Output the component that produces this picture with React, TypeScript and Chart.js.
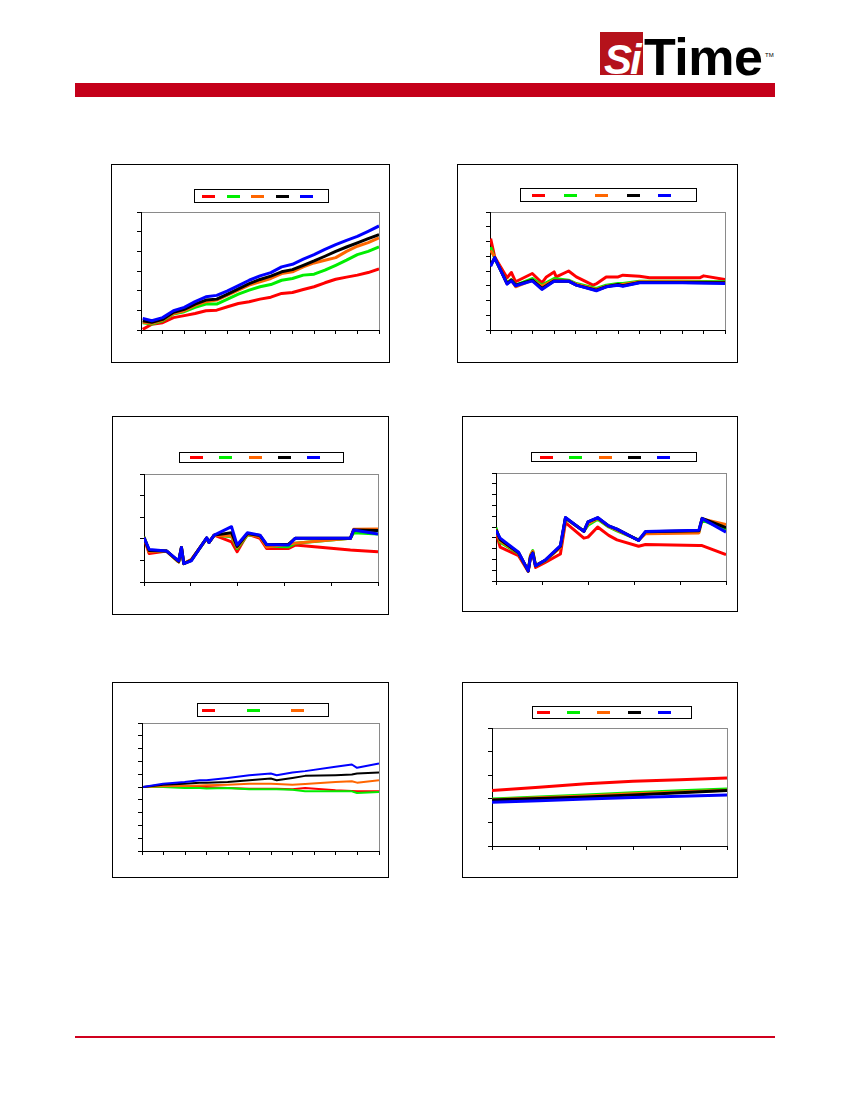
import { useEffect, useRef } from "react";
import { Chart, registerables } from "chart.js";

Chart.register(...registerables);

// ---- data ----

// panel 1 (rising)
const p1X = [0.08, 0.5, 1, 1.5, 2, 2.5, 3, 3.5, 4, 4.5, 5, 5.5, 6, 6.5, 7, 7.5, 8, 8.5, 9, 9.5, 10, 10.5, 11];
const p1Red = [0.03, 0.29, 0.37, 0.63, 0.73, 0.84, 0.98, 1.01, 1.18, 1.35, 1.44, 1.57, 1.67, 1.86, 1.91, 2.06, 2.2, 2.4, 2.58, 2.69, 2.79, 2.92, 3.11];
const p1Green = [0.37, 0.3, 0.47, 0.81, 0.93, 1.15, 1.32, 1.32, 1.57, 1.82, 2.03, 2.2, 2.31, 2.53, 2.62, 2.79, 2.84, 3.04, 3.29, 3.55, 3.83, 4.0, 4.22];
const p1Orange = [0.39, 0.34, 0.51, 0.84, 0.98, 1.25, 1.44, 1.52, 1.77, 2.03, 2.28, 2.45, 2.62, 2.87, 2.96, 3.21, 3.41, 3.55, 3.68, 4.0, 4.26, 4.44, 4.68];
const p1Black = [0.47, 0.39, 0.54, 0.9, 1.05, 1.32, 1.52, 1.57, 1.82, 2.09, 2.36, 2.57, 2.74, 2.96, 3.07, 3.29, 3.51, 3.75, 4.0, 4.22, 4.43, 4.65, 4.85];
const p1Blue = [0.59, 0.47, 0.63, 0.98, 1.15, 1.44, 1.69, 1.76, 1.99, 2.26, 2.53, 2.75, 2.92, 3.21, 3.34, 3.6, 3.83, 4.1, 4.34, 4.56, 4.76, 5.02, 5.29];

// panel 2 (settling)
const p2RedX = [0.03, 0.22, 0.8, 1.0, 1.2, 1.98, 2.43, 2.64, 3.0, 3.1, 3.68, 4.04, 4.82, 5.0, 5.44, 6.0, 6.22, 7.0, 7.47, 7.99, 8.99, 9.81, 10.0, 11];
const p2Red = [6.19, 4.95, 3.54, 3.9, 3.27, 3.83, 3.2, 3.6, 3.94, 3.6, 4.0, 3.6, 3.04, 3.15, 3.6, 3.6, 3.72, 3.65, 3.54, 3.54, 3.54, 3.54, 3.67, 3.42];
const p2X = [0.03, 0.22, 0.8, 1.0, 1.2, 1.98, 2.43, 3.0, 3.68, 4.04, 4.98, 5.44, 6.0, 6.22, 7.0, 9.0, 11];
const p2Green = [5.63, 4.84, 3.2, 3.42, 3.04, 3.49, 3.04, 3.49, 3.38, 3.15, 2.82, 3.04, 3.15, 3.15, 3.31, 3.31, 3.27];
const p2Orange = [5.4, 4.95, 3.15, 3.38, 2.93, 3.38, 2.97, 3.38, 3.33, 3.11, 2.75, 2.97, 3.09, 3.09, 3.27, 3.27, 3.22];
const p2Black = [4.39, 4.91, 3.15, 3.38, 3.04, 3.38, 2.82, 3.33, 3.31, 3.04, 2.7, 2.93, 3.09, 3.0, 3.22, 3.22, 3.2];
const p2Blue = [4.32, 4.91, 3.11, 3.33, 3.0, 3.33, 2.75, 3.31, 3.31, 3.04, 2.66, 2.93, 3.04, 2.97, 3.2, 3.2, 3.15];

// panel 3
const p3X = [0, 0.11, 0.48, 0.74, 0.8, 0.85, 1.01, 1.34, 1.39, 1.5, 1.87, 1.99, 2.21, 2.48, 2.62, 3.09, 3.23, 4.41, 4.48, 5];
const p3Red = [2.02, 1.32, 1.43, 0.93, 1.6, 0.85, 1.04, 2.02, 1.83, 2.17, 1.86, 1.4, 2.22, 2.02, 1.55, 1.55, 1.71, 1.48, 1.47, 1.4];
const p3Green = [2.1, 1.44, 1.43, 0.93, 1.6, 0.85, 1.01, 2.02, 1.83, 2.17, 2.1, 1.55, 2.17, 2.13, 1.66, 1.63, 1.79, 2.02, 2.28, 2.22];
const p3Orange = [2.08, 1.4, 1.43, 0.93, 1.6, 0.85, 1.02, 2.02, 1.83, 2.17, 2.13, 1.6, 2.2, 2.1, 1.62, 1.75, 1.8, 2.02, 2.44, 2.45];
const p3Black = [2.05, 1.46, 1.44, 0.95, 1.6, 0.85, 1.0, 2.04, 1.83, 2.17, 2.28, 1.65, 2.24, 2.15, 1.72, 1.75, 2.02, 2.02, 2.41, 2.38];
const p3Blue = [2.05, 1.51, 1.44, 0.98, 1.6, 0.85, 0.98, 2.05, 1.83, 2.17, 2.56, 1.71, 2.28, 2.17, 1.74, 1.71, 2.02, 2.02, 2.41, 2.22];

// panel 4
const p4X = [0, 0.09, 0.49, 0.7, 0.75, 0.8, 0.86, 1.07, 1.4, 1.51, 1.91, 2.0, 2.21, 2.45, 2.63, 3.1, 3.25, 4.41, 4.48, 5];
const p4Red = [4.53, 3.13, 2.34, 0.88, 2.19, 2.66, 1.25, 1.72, 2.5, 5.41, 3.97, 4.06, 5.0, 4.22, 3.81, 3.22, 3.38, 3.28, 3.28, 2.44];
const p4Green = [4.94, 3.59, 2.56, 0.94, 2.34, 2.81, 1.41, 1.88, 3.13, 5.78, 4.63, 5.16, 5.72, 5.0, 4.65, 3.81, 4.44, 4.53, 5.63, 4.75];
const p4Orange = [4.8, 3.7, 2.6, 0.95, 2.4, 2.75, 1.45, 1.9, 3.1, 5.8, 4.6, 5.3, 5.8, 5.05, 4.7, 3.78, 4.38, 4.45, 5.75, 5.22];
const p4Black = [4.75, 3.85, 2.62, 0.94, 2.25, 2.6, 1.41, 1.92, 3.2, 5.85, 4.6, 5.47, 5.85, 5.1, 4.8, 3.76, 4.55, 4.65, 5.8, 4.94];
const p4Blue = [4.69, 3.97, 2.66, 0.94, 2.19, 2.56, 1.41, 1.94, 3.28, 5.88, 4.59, 5.47, 5.88, 5.1, 4.8, 3.75, 4.59, 4.69, 5.78, 4.53];

// panel 5 (fan out from the middle)
const p5X = [0.05, 0.98, 1.98, 2.68, 2.99, 3.98, 4.98, 5.98, 6.25, 6.98, 7.57, 8.98, 9.74, 9.98, 11];
const p5Red = [5.0, 5.0, 5.05, 5.01, 5.0, 4.92, 4.87, 4.87, 4.86, 4.82, 4.92, 4.74, 4.68, 4.66, 4.66];
const p5Green = [5.0, 5.0, 4.92, 4.92, 4.88, 4.92, 4.82, 4.82, 4.82, 4.79, 4.66, 4.66, 4.66, 4.53, 4.61];
const p5Orange = [5.0, 5.05, 5.08, 5.12, 5.13, 5.18, 5.26, 5.26, 5.24, 5.18, 5.24, 5.39, 5.45, 5.34, 5.53];
const p5Black = [5.0, 5.18, 5.26, 5.34, 5.34, 5.39, 5.53, 5.66, 5.53, 5.71, 5.87, 5.92, 5.97, 6.05, 6.13];
const p5Blue = [5.0, 5.26, 5.39, 5.53, 5.53, 5.71, 5.92, 6.05, 5.92, 6.13, 6.24, 6.58, 6.76, 6.5, 6.84];

// panel 6 (gentle slopes)
const p6X = [0, 1, 2, 3, 4, 5];
const p6Red = [2.35, 2.49, 2.64, 2.74, 2.81, 2.88];
const p6Green = [1.99, 2.08, 2.16, 2.26, 2.34, 2.42];
const p6Orange = [1.96, 2.04, 2.12, 2.21, 2.29, 2.36];
const p6Black = [1.95, 2.01, 2.08, 2.16, 2.26, 2.35];
const p6Blue = [1.85, 1.92, 1.99, 2.06, 2.11, 2.16];

// ---- styling ----
const RED = "#ff0000";
const GREEN = "#00ee00";
const ORANGE = "#ff6600";
const BLACK = "#000000";
const BLUE = "#0000ff";
const TICK = 4;

type Rect = [number, number, number, number]; // left, top, right, bottom

interface Series {
  color: string;
  x: number[];
  y: number[];
  inLegend?: boolean;
}

interface PanelProps {
  frame: Rect;
  plot: Rect;
  legend: Rect;
  first: number;
  step: number;
  series: Series[];
  xMax: number;
  yMax: number;
  lineWidth: number;
}

// grey outline round the plot area, under the black axes
const plotOutline = {
  id: "plotOutline",
  beforeDraw(chart: Chart) {
    const { ctx, chartArea: a } = chart;
    ctx.save();
    ctx.strokeStyle = "#8a8a8a";
    ctx.lineWidth = 1;
    ctx.strokeRect(a.left + 0.5, a.top + 0.5, a.right - a.left, a.bottom - a.top);
    ctx.restore();
  },
};

function axis(max: number) {
  return {
    type: "linear" as const,
    min: 0,
    max,
    ticks: { display: false, stepSize: 1, maxTicksLimit: 100 },
    grid: { drawOnChartArea: false, drawTicks: true, tickLength: TICK, color: "#000" },
    border: { color: "#000", width: 1 },
  };
}

function Panel({ frame, plot, legend, first, step, series, xMax, yMax, lineWidth }: PanelProps) {
  const canvasRef = useRef<HTMLCanvasElement>(null);
  const [L, T, R, B] = frame;
  const W = R - L;
  const H = B - T;

  useEffect(() => {
    const el = canvasRef.current;
    if (!el) return;
    const chart = new Chart(el, {
      type: "line",
      data: {
        datasets: series.map((s, i) => ({
          data: s.x.map((x, j) => ({ x, y: s.y[j] })),
          borderColor: s.color,
          borderWidth: lineWidth,
          pointRadius: 0,
          tension: 0,
          borderJoinStyle: "round" as const,
          fill: false,
          // later series are painted on top, as in the original
          order: series.length - i,
        })),
      },
      options: {
        responsive: false,
        animation: false,
        devicePixelRatio: 1,
        layout: {
          autoPadding: false,
          padding: {
            left: plot[0] - (L + 1) - TICK,
            top: plot[1] - (T + 1),
            right: R - 1 - plot[2],
            bottom: B - 1 - plot[3] - TICK,
          },
        },
        plugins: { legend: { display: false }, tooltip: { enabled: false } },
        scales: { x: axis(xMax), y: axis(yMax) },
      },
      plugins: [plotOutline],
    });
    return () => chart.destroy();
  }, []);

  const shown = series.filter((s) => s.inLegend !== false);
  const lw = legend[2] - legend[0];
  const lh = legend[3] - legend[1];

  return (
    <div
      style={{
        position: "absolute",
        left: L,
        top: T,
        width: W,
        height: H,
        border: "1px solid #000",
        boxSizing: "border-box",
        background: "#fff",
      }}
    >
      <canvas ref={canvasRef} width={W - 2} height={H - 2} style={{ position: "absolute", left: 0, top: 0 }} />
      <div
        style={{
          position: "absolute",
          left: legend[0] - L - 1,
          top: legend[1] - T - 1,
          width: lw,
          height: lh,
          border: "1px solid #000",
          boxSizing: "border-box",
          background: "#fff",
        }}
      >
        {shown.map((s, i) => (
          <div
            key={i}
            style={{
              position: "absolute",
              left: first + i * step - 1,
              top: lh / 2 - 2.5,
              width: 13,
              height: 3,
              background: s.color,
            }}
          />
        ))}
      </div>
    </div>
  );
}

function five(x: number[], r: number[], g: number[], o: number[], k: number[], b: number[], rx?: number[]): Series[] {
  return [
    { color: RED, x: rx || x, y: r },
    { color: GREEN, x, y: g },
    { color: ORANGE, x, y: o },
    { color: BLACK, x, y: k },
    { color: BLUE, x, y: b },
  ];
}

export default function App() {
  useEffect(() => {
    document.body.style.margin = "0";
  }, []);

  const p5 = five(p5X, p5Red, p5Green, p5Orange, p5Black, p5Blue);
  p5[3].inLegend = false;
  p5[4].inLegend = false;

  return (
    <div style={{ position: "relative", width: 850, height: 1100, background: "#fff", fontFamily: "'Liberation Sans', Arial, sans-serif" }}>
      {/* header logo */}
      <div style={{ position: "absolute", left: 600, top: 32, width: 43, height: 43, background: "#b5121b" }} />
      <span
        style={{
          position: "absolute",
          left: 604,
          top: 39,
          fontSize: 42,
          lineHeight: 1,
          fontWeight: 700,
          fontStyle: "italic",
          color: "#fff",
          letterSpacing: -2,
        }}
      >
        Si
      </span>
      <span style={{ position: "absolute", left: 644, top: 31, fontSize: 52, lineHeight: 1, fontWeight: 700, color: "#000", letterSpacing: -0.5 }}>
        Time
      </span>
      <span style={{ position: "absolute", left: 765, top: 52, fontSize: 6, lineHeight: 1, color: "#000" }}>TM</span>
      <div style={{ position: "absolute", left: 75, top: 83, width: 700, height: 14, background: "#c4001a" }} />
      <div style={{ position: "absolute", left: 75, top: 1036, width: 700, height: 1.5, background: "#d0001e" }} />

      <Panel
        frame={[111, 164, 390, 363]}
        plot={[141, 212, 379, 330]}
        legend={[194, 189, 329, 203]}
        first={8}
        step={24.6}
        series={five(p1X, p1Red, p1Green, p1Orange, p1Black, p1Blue)}
        xMax={11}
        yMax={6}
        lineWidth={3}
      />
      <Panel
        frame={[457, 164, 738, 363]}
        plot={[490, 212, 725, 330]}
        legend={[520, 188, 697, 202]}
        first={12}
        step={31.5}
        series={five(p2X, p2Red, p2Green, p2Orange, p2Black, p2Blue, p2RedX)}
        xMax={11}
        yMax={8}
        lineWidth={3}
      />
      <Panel
        frame={[112, 416, 389, 615]}
        plot={[144, 474, 378, 582]}
        legend={[179, 452, 344, 463]}
        first={11}
        step={29.3}
        series={five(p3X, p3Red, p3Green, p3Orange, p3Black, p3Blue)}
        xMax={5}
        yMax={5}
        lineWidth={3}
      />
      <Panel
        frame={[462, 416, 738, 612]}
        plot={[496, 473, 726, 581]}
        legend={[531, 452, 697, 462]}
        first={9}
        step={29.3}
        series={five(p4X, p4Red, p4Green, p4Orange, p4Black, p4Blue)}
        xMax={5}
        yMax={10}
        lineWidth={3}
      />
      <Panel
        frame={[112, 682, 389, 878]}
        plot={[142, 723, 379, 851]}
        legend={[197, 703, 329, 717]}
        first={5}
        step={44.7}
        series={p5}
        xMax={11}
        yMax={10}
        lineWidth={2}
      />
      <Panel
        frame={[462, 682, 738, 878]}
        plot={[492, 728, 727, 846]}
        legend={[532, 706, 692, 719]}
        first={5}
        step={30.2}
        series={five(p6X, p6Red, p6Green, p6Orange, p6Black, p6Blue)}
        xMax={5}
        yMax={5}
        lineWidth={3}
      />
    </div>
  );
}
